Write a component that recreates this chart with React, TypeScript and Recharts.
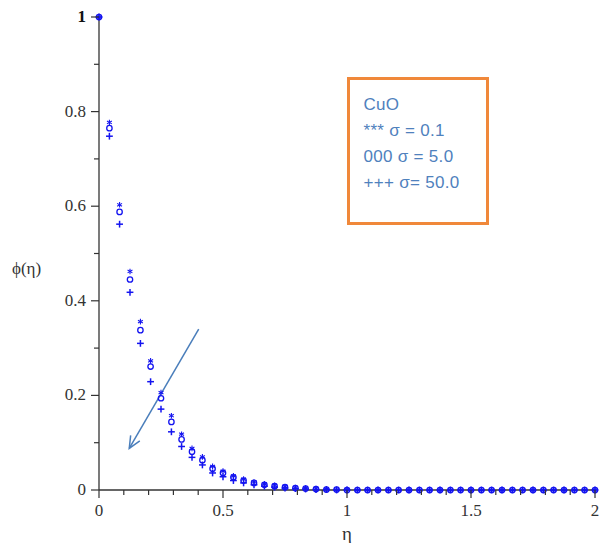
import { ScatterChart, Scatter, XAxis, YAxis, ReferenceLine } from 'recharts';

// similarity variable, one sample every 1/24
const eta = [
  0, 0.042, 0.083, 0.125, 0.167, 0.208, 0.25, 0.292, 0.333, 0.375, 0.417, 0.458,
  0.5, 0.542, 0.583, 0.625, 0.667, 0.708, 0.75, 0.792, 0.833, 0.875, 0.917, 0.958,
  1, 1.042, 1.083, 1.125, 1.167, 1.208, 1.25, 1.292, 1.333, 1.375, 1.417, 1.458,
  1.5, 1.542, 1.583, 1.625, 1.667, 1.708, 1.75, 1.792, 1.833, 1.875, 1.917, 1.958, 2,
];

// phi(eta) for CuO at three sigma values
const phiSigma01 = [
  1, 0.777, 0.603, 0.462, 0.356, 0.273, 0.206, 0.157, 0.118, 0.088, 0.07, 0.05,
  0.04, 0.03, 0.023, 0.017, 0.013, 0.01, 0.007, 0.005, 0.004, 0.003, 0.002, 0.001,
  0.001, 0, 0, 0, 0, 0, 0, 0, 0, 0, 0, 0,
  0, 0, 0, 0, 0, 0, 0, 0, 0, 0, 0, 0, 0,
];
const phiSigma5 = [
  1, 0.765, 0.588, 0.445, 0.338, 0.261, 0.194, 0.144, 0.107, 0.081, 0.063, 0.045,
  0.036, 0.027, 0.02, 0.015, 0.011, 0.008, 0.006, 0.004, 0.003, 0.002, 0.001, 0.001,
  0, 0, 0, 0, 0, 0, 0, 0, 0, 0, 0, 0,
  0, 0, 0, 0, 0, 0, 0, 0, 0, 0, 0, 0, 0,
];
const phiSigma50 = [
  1, 0.748, 0.562, 0.418, 0.31, 0.229, 0.171, 0.123, 0.092, 0.069, 0.053, 0.036,
  0.028, 0.02, 0.015, 0.011, 0.008, 0.006, 0.004, 0.003, 0.002, 0.001, 0.001, 0,
  0, 0, 0, 0, 0, 0, 0, 0, 0, 0, 0, 0,
  0, 0, 0, 0, 0, 0, 0, 0, 0, 0, 0, 0, 0,
];

const xTicks = [0, 0.1, 0.2, 0.3, 0.4, 0.5, 0.6, 0.7, 0.8, 0.9, 1, 1.1, 1.2, 1.3, 1.4, 1.5, 1.6, 1.7, 1.8, 1.9, 2];
const xLabeled = [0, 0.5, 1, 1.5, 2];
const yTicks = [0, 0.1, 0.2, 0.3, 0.4, 0.5, 0.6, 0.7, 0.8, 0.9, 1];
const yLabeled = [0, 0.2, 0.4, 0.6, 0.8, 1];

const legendLines = ['CuO', '*** σ = 0.1', '000 σ = 5.0', '+++ σ= 50.0'];

// arrow pointing in the direction of increasing sigma
const arrowFrom = { x: 0.402, y: 0.34 };
const arrowTo = { x: 0.122, y: 0.088 };

const MARK = '#1414f0';
const AXIS = '#333';
const serifText = { fontFamily: 'Liberation Serif, Times New Roman, DejaVu Serif, serif' };

const toPoints = (ys: number[]) => eta.map((x, i) => ({ eta: x, phi: ys[i] }));

const isIn = (list: number[], v: number) => list.some((t) => Math.abs(t - v) < 1e-6);

// eslint-disable-next-line @typescript-eslint/no-explicit-any
function StarMark({ cx, cy }: any) {
  const r = 2.8;
  return (
    <g stroke={MARK} strokeWidth={1.1}>
      <line x1={cx} y1={cy - r} x2={cx} y2={cy + r} />
      <line x1={cx - r * 0.87} y1={cy - r * 0.5} x2={cx + r * 0.87} y2={cy + r * 0.5} />
      <line x1={cx + r * 0.87} y1={cy - r * 0.5} x2={cx - r * 0.87} y2={cy + r * 0.5} />
    </g>
  );
}

// eslint-disable-next-line @typescript-eslint/no-explicit-any
function CircleMark({ cx, cy }: any) {
  return <circle cx={cx} cy={cy} r={2.7} fill="none" stroke={MARK} strokeWidth={1.3} />;
}

// eslint-disable-next-line @typescript-eslint/no-explicit-any
function PlusMark({ cx, cy }: any) {
  const r = 3.4;
  return (
    <g stroke={MARK} strokeWidth={1.5}>
      <line x1={cx - r} y1={cy} x2={cx + r} y2={cy} />
      <line x1={cx} y1={cy - r} x2={cx} y2={cy + r} />
    </g>
  );
}

// eslint-disable-next-line @typescript-eslint/no-explicit-any
function XTick({ x, y, payload }: any) {
  const major = isIn(xLabeled, payload.value);
  return (
    <g>
      <line x1={x} y1={y} x2={x} y2={y + (major ? 8 : 5)} stroke={AXIS} strokeWidth={1.2} />
      {major && (
        <text x={x} y={y + 26} textAnchor="middle" style={serifText} fontSize={17} fill="#333">
          {payload.value}
        </text>
      )}
    </g>
  );
}

// eslint-disable-next-line @typescript-eslint/no-explicit-any
function YTick({ x, y, payload }: any) {
  const major = isIn(yLabeled, payload.value);
  const top = payload.value === 1;
  return (
    <g>
      <line x1={x - (major ? 8 : 5)} y1={y} x2={x} y2={y} stroke={AXIS} strokeWidth={1.2} />
      {major && (
        <text
          x={x - 13}
          y={y + 5}
          textAnchor="end"
          style={serifText}
          fontSize={17}
          fontWeight={top ? 'bold' : 'normal'}
          fill={top ? '#111' : '#333'}
        >
          {payload.value}
        </text>
      )}
    </g>
  );
}

// eslint-disable-next-line @typescript-eslint/no-explicit-any
function Arrow({ x1, y1, x2, y2 }: any) {
  const ang = Math.atan2(y2 - y1, x2 - x1);
  const len = 13;
  const spread = 0.42;
  const hx1 = x2 - len * Math.cos(ang - spread);
  const hy1 = y2 - len * Math.sin(ang - spread);
  const hx2 = x2 - len * Math.cos(ang + spread);
  const hy2 = y2 - len * Math.sin(ang + spread);
  return (
    <g stroke="#4a7ebb" strokeWidth={1.5} fill="none">
      <line x1={x1} y1={y1} x2={x2} y2={y2} />
      <polyline points={`${hx1},${hy1} ${x2},${y2} ${hx2},${hy2}`} />
    </g>
  );
}

export default function App() {
  return (
    <div style={{ position: 'absolute', left: 0, top: 0, width: 600, height: 543, background: '#fff' }}>
      <ScatterChart width={600} height={543} margin={{ top: 17, right: 5, bottom: 0, left: 0 }}>
        <XAxis
          dataKey="eta"
          type="number"
          domain={[0, 2]}
          ticks={xTicks}
          interval={0}
          tickSize={0}
          tickMargin={0}
          tickLine={false}
          tick={<XTick />}
          height={53}
          stroke={AXIS}
          strokeWidth={1.3}
          label={{
            // eslint-disable-next-line @typescript-eslint/no-explicit-any
            content: ({ viewBox }: any) => (
              <text
                x={viewBox.x + viewBox.width / 2}
                y={viewBox.y + 50}
                textAnchor="middle"
                style={serifText}
                fontSize={19}
                fill="#333"
              >
                η
              </text>
            ),
          }}
        />
        <YAxis
          dataKey="phi"
          type="number"
          domain={[0, 1]}
          ticks={yTicks}
          interval={0}
          tickSize={0}
          tickMargin={0}
          tickLine={false}
          tick={<YTick />}
          width={99}
          stroke={AXIS}
          strokeWidth={1.3}
          label={{
            // eslint-disable-next-line @typescript-eslint/no-explicit-any
            content: ({ viewBox }: any) => (
              <text
                x={viewBox.x + 12}
                y={viewBox.y + viewBox.height * 0.53 + 6}
                style={serifText}
                fontSize={17}
                fill="#333"
              >
                ϕ(η)
              </text>
            ),
          }}
        />
        <ReferenceLine
          segment={[arrowFrom, arrowTo]}
          ifOverflow="visible"
          shape={(p: any) => <Arrow {...p} />}
        />
        <Scatter data={toPoints(phiSigma50)} shape={<PlusMark />} isAnimationActive={false} />
        <Scatter data={toPoints(phiSigma5)} shape={<CircleMark />} isAnimationActive={false} />
        <Scatter data={toPoints(phiSigma01)} shape={<StarMark />} isAnimationActive={false} />
      </ScatterChart>

      {/* series key */}
      <div
        style={{
          position: 'absolute',
          left: 347,
          top: 77,
          width: 142,
          height: 148,
          boxSizing: 'border-box',
          border: '3.5px solid #f0883a',
          padding: '12px 0 0 13.5px',
          fontFamily: '"Liberation Sans", Arial, sans-serif',
          fontSize: 17,
          letterSpacing: 0.3,
          lineHeight: '26px',
          color: '#4f81bd',
          whiteSpace: 'nowrap',
        }}
      >
        {legendLines.map((t) => (
          <div key={t}>{t}</div>
        ))}
      </div>
    </div>
  );
}
